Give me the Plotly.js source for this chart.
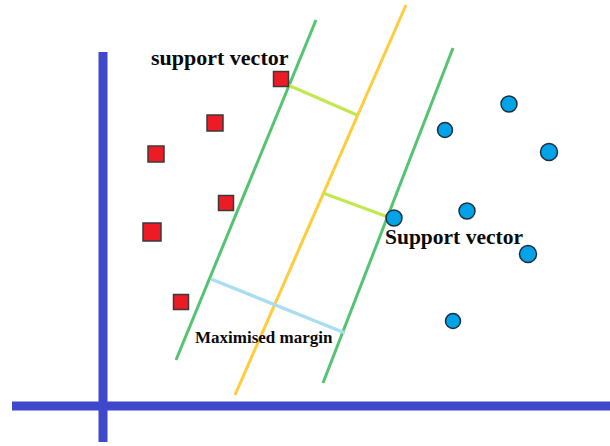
<!DOCTYPE html>
<html>
<head>
<meta charset="utf-8">
<script src="https://cdn.plot.ly/plotly-3.0.1.min.js"></script>
<style>html,body{margin:0;padding:0;background:#fff}#chart{width:610px;height:446px}</style>
</head>
<body>
<div id="chart"></div>
<script>
// Class A (red squares)
const redX = [281, 215, 156, 226, 152, 181];
const redY = [79, 123, 154, 203, 232, 302];
const redSize = [15, 16, 16, 15, 18, 15];
// Class B (blue circles)
const blueX = [509, 445, 549, 467, 528, 394, 453];
const blueY = [104, 130, 152, 211, 254, 218, 321];
const blueSize = [16, 15, 17, 16, 17, 16, 15];
// Hyperplane and margin boundaries [x0, x1], [y0, y1]
const leftMarginX = [316, 176], leftMarginY = [20, 360];
const hyperplaneX = [406, 235], hyperplaneY = [5, 395];
const rightMarginX = [453, 323], rightMarginY = [48, 383];
// Distance segments
const dist1X = [288, 357], dist1Y = [85, 115];
const dist2X = [323, 388], dist2Y = [193, 217];
const marginSegX = [211, 345], marginSegY = [279, 333];
// Coordinate axes
const hAxisX = [12, 610], hAxisY = [406, 406];
const vAxisX = [103, 103], vAxisY = [52, 442];
// Labels
const labels = [
  {text: 'support vector', x: 220, y: 57, size: 22},
  {text: 'Support vector', x: 454, y: 237, size: 21.5},
  {text: 'Maximised margin', x: 264, y: 337, size: 17}
];

function seg(x, y, color, w) {
  return {x: x, y: y, mode: 'lines', type: 'scatter', hoverinfo: 'skip',
          line: {color: color, width: w}, showlegend: false};
}

const traces = [
  seg(hAxisX, hAxisY, '#3f48cc', 9),
  seg(vAxisX, vAxisY, '#3f48cc', 9),
  seg(leftMarginX, leftMarginY, '#55c472', 3),
  seg(hyperplaneX, hyperplaneY, '#ffcc3a', 3),
  seg(rightMarginX, rightMarginY, '#55c472', 3),
  seg(dist1X, dist1Y, '#c2e84e', 3),
  seg(dist2X, dist2Y, '#c2e84e', 3),
  seg(marginSegX, marginSegY, '#a9def0', 3.5),
  {x: redX, y: redY, mode: 'markers', type: 'scatter', showlegend: false,
   marker: {symbol: 'square', size: redSize, opacity: 1, color: '#ed1c24', line: {color: '#3a3a3a', width: 1.5}}},
  {x: blueX, y: blueY, mode: 'markers', type: 'scatter', showlegend: false,
   marker: {symbol: 'circle', size: blueSize, opacity: 1, color: '#00a2e8', line: {color: '#1e2e3c', width: 1.5}}}
];

const layout = {
  width: 610, height: 446,
  margin: {l: 0, r: 0, t: 0, b: 0},
  paper_bgcolor: '#ffffff', plot_bgcolor: '#ffffff',
  xaxis: {range: [0, 610], visible: false, fixedrange: true},
  yaxis: {range: [446, 0], visible: false, fixedrange: true},
  showlegend: false,
  annotations: labels.map(l => ({
    text: l.text, x: l.x, y: l.y, xref: 'x', yref: 'y', showarrow: false,
    font: {family: 'Liberation Serif, Times New Roman, serif', size: l.size, color: '#0a0a0a', weight: 'bold'}
  }))
};

Plotly.newPlot('chart', traces, layout, {staticPlot: true, displayModeBar: false});
</script>
</body>
</html>
